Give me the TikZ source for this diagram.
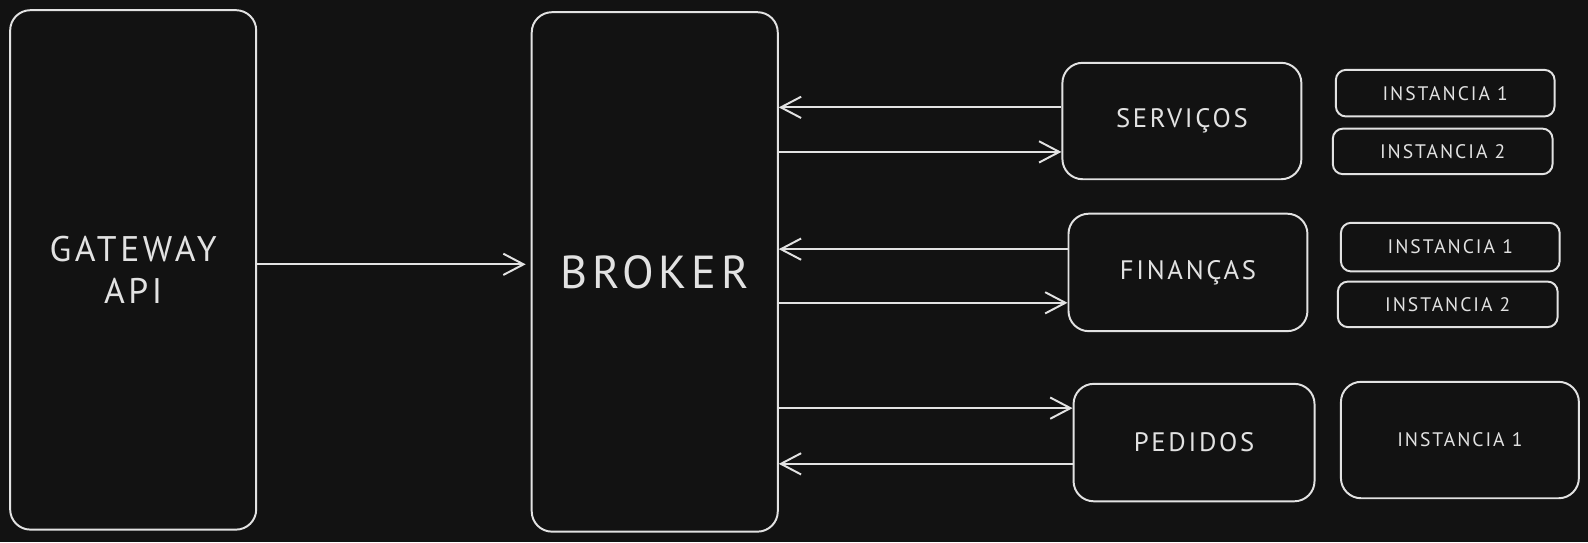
\documentclass[tikz,border=0pt]{standalone}
\usepackage{fontspec}
\setmainfont{PT Sans}[LetterSpace=10]
\usetikzlibrary{arrows.meta, positioning}
\definecolor{fundo}{HTML}{121212}
\definecolor{traco}{HTML}{E2E2E2}

\begin{document}
\begin{tikzpicture}[
    x=0.02cm, y=-0.02cm,
    caixa/.style = {rectangle, draw=traco, line width=1.1pt, rounded corners=0.4cm,
      text=traco, inner sep=0pt, align=center},
    inst/.style = {caixa, rounded corners=0.2cm, font=\fontsize{11}{13}\selectfont},
    pil/.style = {traco, line width=1.1pt,
      -{Straight Barb[length=0.4cm, width=0.42cm, line width=1.1pt]}},
    font=\fontsize{15}{18}\selectfont
    ]

  \fill[fundo] (0,0) rectangle (1568,535.2);

  \node[caixa, minimum width=4.86cm, minimum height=10.26cm,
    font=\fontsize{20}{24}\selectfont] (gw) at (131.5,266.5) {GATEWAY\\API} ;
  \node[caixa, minimum width=4.86cm, minimum height=10.26cm,
    font=\fontsize{26}{30}\selectfont] (brk) at (646.5,268.5) {BROKER} ;

  \node[caixa, minimum width=4.72cm, minimum height=2.3cm] (serv) at (1167,119.5) {SERVIÇOS} ;
  \node[caixa, minimum width=4.72cm, minimum height=2.32cm] (fin) at (1173,269) {FINANÇAS} ;
  \node[caixa, minimum width=4.76cm, minimum height=2.32cm] (ped) at (1179,437) {PEDIDOS} ;

  \node[inst, minimum width=4.32cm, minimum height=0.92cm] (s1) at (1427,92) {INSTANCIA 1} ;
  \node[inst, minimum width=4.34cm, minimum height=0.9cm] (s2) at (1424.5,149.5) {INSTANCIA 2} ;
  \node[inst, minimum width=4.32cm, minimum height=0.96cm] (f1) at (1432,244) {INSTANCIA 1} ;
  \node[inst, minimum width=4.34cm, minimum height=0.9cm] (f2) at (1429.5,300.5) {INSTANCIA 2} ;
  \node[inst, rounded corners=0.4cm, minimum width=4.7cm, minimum height=2.3cm] (p1) at (1441.5,434.5) {INSTANCIA 1} ;

  \draw[pil, shorten >=0.1cm] ([yshift=0.11cm]gw.east) -- ([yshift=0.11cm]gw.east -| brk.west);

  \draw[pil] ([yshift=0.27cm]serv.west) -- ([yshift=0.27cm]serv.west -| brk.east);
  \draw[pil] ([yshift=-0.61cm]serv.west -| brk.east) -- ([yshift=-0.61cm]serv.west);

  \draw[pil] ([yshift=0.46cm]fin.west) -- ([yshift=0.46cm]fin.west -| brk.east);
  \draw[pil] ([yshift=-0.6cm]fin.west -| brk.east) -- ([yshift=-0.6cm]fin.west);

  \draw[pil] ([yshift=0.68cm]ped.west -| brk.east) -- ([yshift=0.68cm]ped.west);
  \draw[pil] ([yshift=-0.42cm]ped.west) -- ([yshift=-0.42cm]ped.west -| brk.east);

\end{tikzpicture}
\end{document}
